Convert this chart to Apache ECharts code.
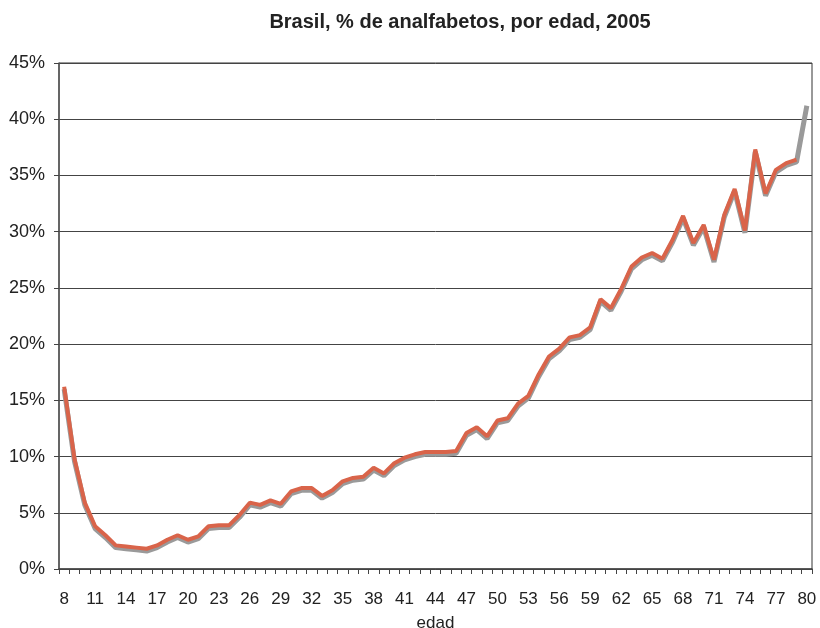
<!DOCTYPE html>
<html>
<head>
<meta charset="utf-8">
<script src="https://cdn.jsdelivr.net/npm/echarts@6/dist/echarts.min.js"></script>
<style>html,body{margin:0;padding:0;background:#fff}#c{width:820px;height:628px}</style>
</head>
<body>
<div id="c"></div>
<script>
var ages = [];
for (var a = 8; a <= 80; a++) ages.push(String(a));

var seriesOrange = [16.2, 9.8, 5.9, 3.8, 3.0, 2.1, 2.0, 1.9, 1.8, 2.1, 2.6, 3.0, 2.6, 2.9, 3.8, 3.9, 3.9,
  4.8, 5.9, 5.7, 6.1, 5.8, 6.9, 7.2, 7.2, 6.5, 7.0, 7.8, 8.1, 8.2, 9.0, 8.5, 9.4, 9.9, 10.2,
  10.4, 10.4, 10.4, 10.5, 12.1, 12.6, 11.8, 13.2, 13.4, 14.7, 15.4, 17.3, 18.9, 19.6, 20.6, 20.8, 21.5,
  24.0, 23.2, 24.9, 26.9, 27.7, 28.1, 27.6, 29.3, 31.4, 29.0, 30.6, 27.5, 31.5, 33.8, 30.1, 37.3, 33.4,
  35.5, 36.1, 36.4, null];

var seriesGray = [16.0, 9.6, 5.7, 3.6, 2.8, 1.9, 1.8, 1.7, 1.6, 1.9, 2.4, 2.8, 2.4, 2.7, 3.6, 3.7, 3.7,
  4.6, 5.7, 5.5, 5.9, 5.6, 6.7, 7.0, 7.0, 6.3, 6.8, 7.6, 7.9, 8.0, 8.8, 8.3, 9.2, 9.7, 10.0,
  10.2, 10.2, 10.2, 10.3, 11.9, 12.4, 11.6, 13.0, 13.2, 14.5, 15.2, 17.1, 18.7, 19.4, 20.4, 20.6, 21.3,
  23.8, 23.0, 24.7, 26.7, 27.5, 27.9, 27.4, 29.1, 31.2, 28.8, 30.4, 27.3, 31.3, 33.6, 29.9, 37.1, 33.2,
  35.3, 35.9, 36.2, 41.2];

var yTicks = [0, 5, 10, 15, 20, 25, 30, 35, 40, 45];

var chart = echarts.init(document.getElementById('c'), null, {renderer: 'canvas'});
chart.setOption({
  animation: false,
  backgroundColor: '#ffffff',
  title: {
    text: 'Brasil, % de analfabetos, por edad, 2005',
    left: 455, top: 7, textAlign: 'center',
    textStyle: {fontFamily: 'Liberation Sans', fontSize: 20, fontWeight: 'bold', color: '#222'}
  },
  grid: {left: 59, right: 8, top: 63, bottom: 59, show: true, borderColor: '#333', borderWidth: 1,
         containLabel: false, outerBoundsMode: 'none'},
  xAxis: {
    type: 'category',
    data: ages,
    boundaryGap: true,
    name: 'edad',
    nameLocation: 'middle',
    nameGap: 46,
    nameTextStyle: {fontFamily: 'Liberation Sans', fontSize: 17, color: '#222'},
    axisLine: {lineStyle: {color: '#444', width: 1.5}},
    axisTick: {show: true, interval: 0, length: 5, lineStyle: {color: '#444'}},
    axisLabel: {interval: 2, fontFamily: 'Liberation Sans', fontSize: 17, color: '#222', margin: 22},
    splitLine: {show: false}
  },
  yAxis: {
    type: 'value',
    min: yTicks[0], max: yTicks[yTicks.length - 1], interval: 5,
    axisLine: {show: true, lineStyle: {color: '#555', width: 1.5}},
    axisTick: {show: true, length: 5, lineStyle: {color: '#444'}},
    axisLabel: {formatter: '{value}%', fontFamily: 'Liberation Sans', fontSize: 18, color: '#222', margin: 14},
    splitLine: {show: true, lineStyle: {color: '#444', width: 1}}
  },
  series: [
    {type: 'line', data: seriesGray, symbol: 'none', lineStyle: {color: '#9a9a9a', width: 5}, z: 2},
    {type: 'line', data: seriesOrange, symbol: 'none', connectNulls: false, lineStyle: {color: '#d9644a', width: 4}, z: 3}
  ]
});
</script>
</body>
</html>
